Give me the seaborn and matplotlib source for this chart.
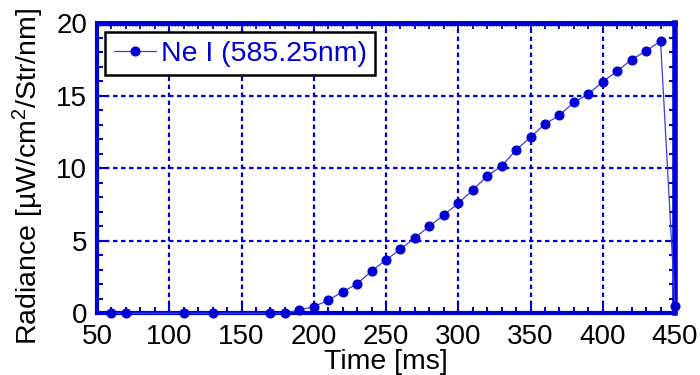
import matplotlib
matplotlib.use("Agg")
import matplotlib.pyplot as plt
from matplotlib.ticker import MultipleLocator
import numpy as np
import pandas as pd
import seaborn as sns

# Ne I line radiance over the discharge
time_ms = [60, 70, 110, 130, 170, 180, 190, 200, 210, 220, 230, 240, 250,
           260, 270, 280, 290, 300, 310, 320, 330, 340, 350, 360, 370, 380,
           390, 400, 410, 420, 430, 440, 450]
radiance = [0.0, 0.0, 0.0, 0.0, 0.0, 0.0, 0.23, 0.46, 0.90, 1.49, 2.02, 2.92,
            3.68, 4.42, 5.21, 6.01, 6.78, 7.59, 8.50, 9.47, 10.16, 11.26,
            12.14, 13.06, 13.65, 14.55, 15.12, 15.97, 16.71, 17.50, 18.09,
            18.78, 0.52]
series_name = "Ne I (585.25nm)"
x_ticks = [50, 100, 150, 200, 250, 300, 350, 400, 450]
y_ticks = [0, 5, 10, 15, 20]

sns.set_style("white")
plt.rcParams["font.family"] = ["Liberation Sans", "DejaVu Sans"]
plt.rcParams["mathtext.fontset"] = "custom"
plt.rcParams["mathtext.rm"] = "Liberation Sans"
plt.rcParams["mathtext.it"] = "Liberation Sans"
plt.rcParams["text.color"] = "black"
plt.rcParams["axes.labelcolor"] = "black"

blue = "#0000d2"
line_blue = "#3c3ce0"

df = pd.DataFrame({"Time": time_ms, "Radiance": radiance, "Line": series_name})

fig = plt.figure(figsize=(7, 3.75), dpi=100)
ax = fig.add_axes([0.1386, 0.1645, 0.8257, 0.7734])

sns.lineplot(data=df, x="Time", y="Radiance", hue="Line", palette=[line_blue],
             marker="o", markersize=6.5, markerfacecolor=blue,
             markeredgecolor=blue, linewidth=0.9, ax=ax, zorder=5,
             clip_on=False)

ax.set_xlim(50, 450)
ax.set_ylim(0, 20)
ax.set_xticks(x_ticks)
ax.set_yticks(y_ticks)
ax.xaxis.set_minor_locator(MultipleLocator(10))
ax.yaxis.set_minor_locator(MultipleLocator(1))

ax.grid(True, which="major", color=blue, linestyle=(0, (2, 1.6)), linewidth=1.6)
ax.set_axisbelow(True)

for side, lw in {"left": 3.0, "bottom": 3.0, "top": 3.5, "right": 4.0}.items():
    ax.spines[side].set_visible(True)
    ax.spines[side].set_color(blue)
    ax.spines[side].set_linewidth(lw)
    ax.spines[side].set_zorder(4)

ax.tick_params(which="both", direction="in", color=blue, top=False, right=True,
               left=True, bottom=True)
ax.tick_params(which="major", length=6, width=1.5, labelsize=20,
               labelcolor="black")
ax.tick_params(axis="x", which="major", pad=8)
ax.tick_params(axis="y", which="major", pad=7)
ax.tick_params(which="minor", length=4, width=1.5)

# dense minor ticks along the top edge
top = ax.secondary_xaxis("top")
top.set_xticks(np.arange(50, 451, 10))
top.xaxis.set_minor_locator(MultipleLocator(2))
top.tick_params(which="both", direction="in", color=blue, labeltop=False)
top.tick_params(which="major", length=4, width=1.3)
top.tick_params(which="minor", length=2.5, width=1.0)
top.spines["top"].set_color(blue)
top.spines["top"].set_linewidth(3.5)

ax.set_xlabel("Time [ms]", fontsize=20.5, labelpad=-1)
ax.set_ylabel("Radiance [µW/cm$^2$/Str/nm]", fontsize=20.5)
ax.yaxis.set_label_coords(-0.088, 0.472)

handles, labels = ax.get_legend_handles_labels()
leg = ax.legend(handles, labels, loc="upper left", fontsize=20.5,
                frameon=True, fancybox=False, framealpha=1,
                edgecolor="black", borderpad=0.3, handlelength=1.5,
                handletextpad=0.15, borderaxespad=0.0,
                bbox_to_anchor=(0.014, 0.97))
leg.get_frame().set_linewidth(1.8)
leg.set_zorder(6)
for t in leg.get_texts():
    t.set_color(blue)

fig.savefig("out.png", dpi=100)
